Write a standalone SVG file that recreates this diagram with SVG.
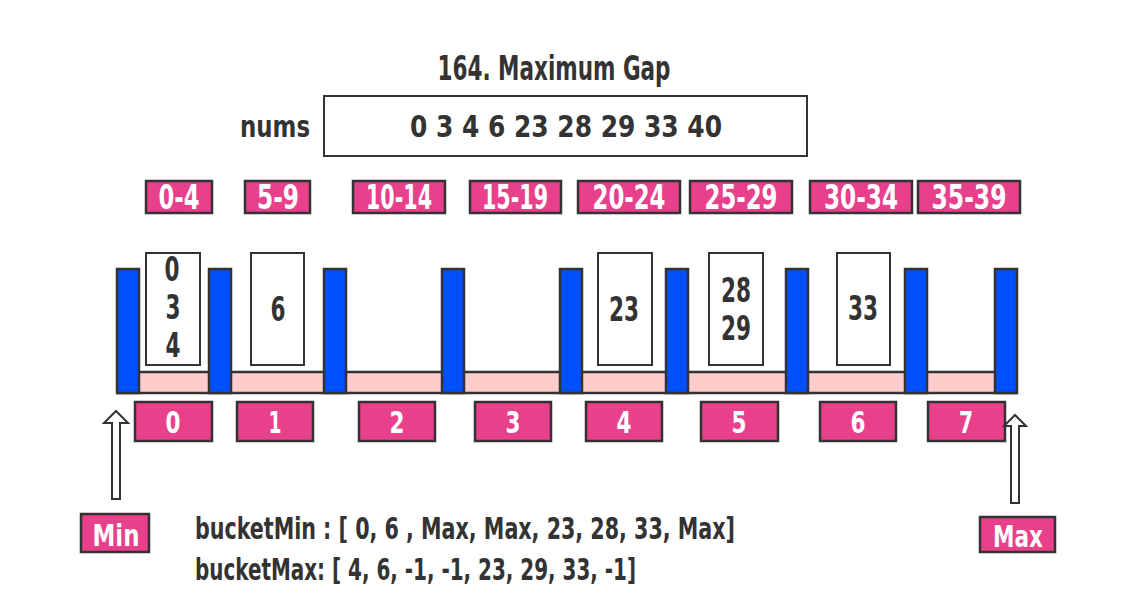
<svg xmlns="http://www.w3.org/2000/svg" width="1139" height="600" viewBox="0 0 1139 600">
<style>
text{font-family:"Liberation Sans Narrow","DejaVu Sans Condensed","Liberation Sans",sans-serif;font-weight:bold;}
.dk{fill:#333333;}
.wt{fill:#ffffff;text-anchor:middle;}
.mid{text-anchor:middle;}
.pk{fill:#E8408A;stroke:#333333;stroke-width:2.5;}
.bar{fill:#0050FF;stroke:#333333;stroke-width:2.5;}
.wb{fill:#ffffff;stroke:#333333;stroke-width:2;}
.strip{fill:#FFCCCC;stroke:#333333;stroke-width:2.5;}
.arr{fill:#ffffff;stroke:#333333;stroke-width:2;}
</style>
<rect width="1139" height="600" fill="#ffffff"/>
<g id="title"><text class="dk mid" x="554" y="80" font-size="33" textLength="233" lengthAdjust="spacingAndGlyphs">164. Maximum Gap</text></g>
<g id="nums">
<text class="dk" x="240" y="137" font-size="31" textLength="70" lengthAdjust="spacingAndGlyphs">nums</text>
<rect class="wb" x="324" y="96" width="483" height="60"/>
<text class="dk" x="410" y="137" font-size="31" textLength="312" lengthAdjust="spacingAndGlyphs" xml:space="preserve">0 3 4 6 23 28 29 33 40</text>
</g>
<g id="ranges">
<g id="range0"><rect class="pk" x="146" y="181" width="66" height="32"/><text class="wt" x="179" y="209" font-size="33" textLength="41" lengthAdjust="spacingAndGlyphs">0-4</text></g>
<g id="range1"><rect class="pk" x="245" y="181" width="65" height="32"/><text class="wt" x="278" y="209" font-size="33" textLength="42" lengthAdjust="spacingAndGlyphs">5-9</text></g>
<g id="range2"><rect class="pk" x="353" y="181" width="92" height="32"/><text class="wt" x="399" y="209" font-size="33" textLength="66" lengthAdjust="spacingAndGlyphs">10-14</text></g>
<g id="range3"><rect class="pk" x="470" y="181" width="91" height="32"/><text class="wt" x="515" y="209" font-size="33" textLength="66" lengthAdjust="spacingAndGlyphs">15-19</text></g>
<g id="range4"><rect class="pk" x="578" y="181" width="102" height="32"/><text class="wt" x="629" y="209" font-size="33" textLength="73" lengthAdjust="spacingAndGlyphs">20-24</text></g>
<g id="range5"><rect class="pk" x="690" y="181" width="102" height="32"/><text class="wt" x="741" y="209" font-size="33" textLength="73" lengthAdjust="spacingAndGlyphs">25-29</text></g>
<g id="range6"><rect class="pk" x="810" y="181" width="102" height="32"/><text class="wt" x="861" y="209" font-size="33" textLength="74" lengthAdjust="spacingAndGlyphs">30-34</text></g>
<g id="range7"><rect class="pk" x="918" y="181" width="102" height="32"/><text class="wt" x="969" y="209" font-size="33" textLength="75" lengthAdjust="spacingAndGlyphs">35-39</text></g>
</g>
<g id="buckets">
<rect class="strip" x="118" y="372" width="898" height="21"/>
<g id="b0"><rect class="wb" x="146" y="253" width="54" height="112"/>
<text class="dk mid" x="172" y="281" font-size="33" textLength="15" lengthAdjust="spacingAndGlyphs">0</text>
<text class="dk mid" x="173" y="319" font-size="33" textLength="15" lengthAdjust="spacingAndGlyphs">3</text>
<text class="dk mid" x="173" y="357" font-size="33" textLength="15" lengthAdjust="spacingAndGlyphs">4</text></g>
<g id="b1"><rect class="wb" x="251" y="253" width="53" height="112"/><text class="dk mid" x="278" y="321" font-size="33" textLength="15" lengthAdjust="spacingAndGlyphs">6</text></g>
<g id="b4"><rect class="wb" x="598" y="253" width="54" height="112"/><text class="dk mid" x="624" y="321" font-size="33" textLength="30" lengthAdjust="spacingAndGlyphs">23</text></g>
<g id="b5"><rect class="wb" x="709" y="253" width="54" height="112"/>
<text class="dk mid" x="736" y="302" font-size="33" textLength="30" lengthAdjust="spacingAndGlyphs">28</text>
<text class="dk mid" x="736" y="340" font-size="33" textLength="30" lengthAdjust="spacingAndGlyphs">29</text></g>
<g id="b6"><rect class="wb" x="837" y="253" width="53" height="112"/><text class="dk mid" x="863" y="320" font-size="33" textLength="30" lengthAdjust="spacingAndGlyphs">33</text></g>
<g id="bars">
<rect class="bar" x="117" y="269" width="22" height="124"/>
<rect class="bar" x="209" y="269" width="22" height="124"/>
<rect class="bar" x="324" y="269" width="22" height="124"/>
<rect class="bar" x="442" y="269" width="22" height="124"/>
<rect class="bar" x="560" y="269" width="22" height="124"/>
<rect class="bar" x="666" y="269" width="22" height="124"/>
<rect class="bar" x="786" y="269" width="22" height="124"/>
<rect class="bar" x="905" y="269" width="22" height="124"/>
<rect class="bar" x="995" y="269" width="22" height="124"/>
</g>
</g>
<g id="indices">
<g id="i0"><rect class="pk" x="135" y="402" width="77" height="39"/><text class="wt" x="173" y="433" font-size="31" textLength="15" lengthAdjust="spacingAndGlyphs">0</text></g>
<g id="i1"><rect class="pk" x="237" y="402" width="76" height="39"/><text class="wt" x="275" y="433" font-size="31" textLength="13" lengthAdjust="spacingAndGlyphs">1</text></g>
<g id="i2"><rect class="pk" x="359" y="402" width="76" height="39"/><text class="wt" x="397" y="433" font-size="31" textLength="15" lengthAdjust="spacingAndGlyphs">2</text></g>
<g id="i3"><rect class="pk" x="475" y="402" width="76" height="39"/><text class="wt" x="513" y="433" font-size="31" textLength="15" lengthAdjust="spacingAndGlyphs">3</text></g>
<g id="i4"><rect class="pk" x="586" y="402" width="76" height="39"/><text class="wt" x="624" y="433" font-size="31" textLength="15" lengthAdjust="spacingAndGlyphs">4</text></g>
<g id="i5"><rect class="pk" x="701" y="402" width="77" height="39"/><text class="wt" x="739" y="433" font-size="31" textLength="15" lengthAdjust="spacingAndGlyphs">5</text></g>
<g id="i6"><rect class="pk" x="820" y="402" width="76" height="39"/><text class="wt" x="858" y="433" font-size="31" textLength="15" lengthAdjust="spacingAndGlyphs">6</text></g>
<g id="i7"><rect class="pk" x="928" y="402" width="77" height="39"/><text class="wt" x="966" y="433" font-size="31" textLength="14" lengthAdjust="spacingAndGlyphs">7</text></g>
</g>
<g id="min"><rect class="pk" x="81" y="514" width="68" height="38"/><text class="wt" x="116" y="546" font-size="31" textLength="47" lengthAdjust="spacingAndGlyphs">Min</text></g>
<g id="max"><rect class="pk" x="980" y="517" width="75" height="35"/><text class="wt" x="1018" y="547" font-size="31" textLength="50" lengthAdjust="spacingAndGlyphs">Max</text></g>
<g id="connectors">
<polygon class="arr" points="116,411 128,423 120,423 120,499 112,499 112,423 104,423"/>
<polygon class="arr" points="1015,415 1026,426 1019,426 1019,503 1011,503 1011,426 1004,426"/>
</g>
<g id="arrays">
<text class="dk" x="195" y="539" font-size="31" textLength="540" lengthAdjust="spacingAndGlyphs">bucketMin : [ 0, 6 , Max, Max, 23, 28, 33, Max]</text>
<text class="dk" x="195" y="580" font-size="31" textLength="441" lengthAdjust="spacingAndGlyphs">bucketMax: [ 4, 6, -1, -1, 23, 29, 33, -1]</text>
</g>
</svg>
